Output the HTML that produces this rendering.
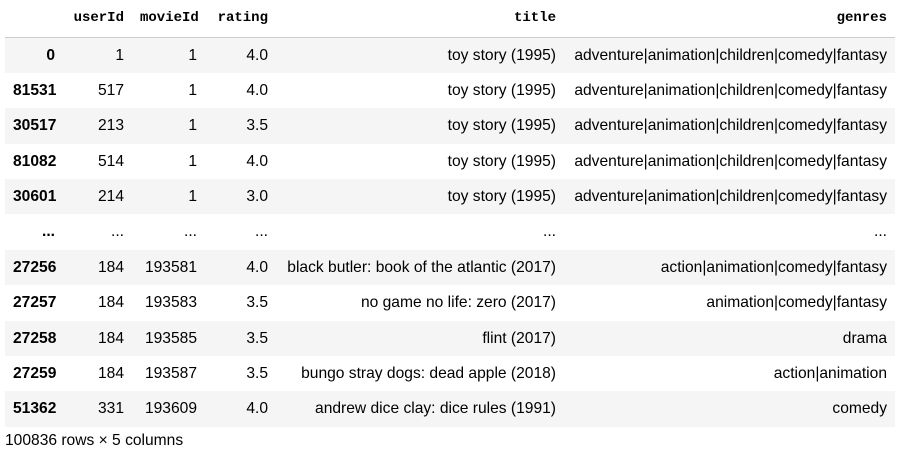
<!DOCTYPE html>
<html><head><style>
body{margin:0;background:#fff;width:899px;height:457px;overflow:hidden;font-family:"Liberation Sans",Arial,sans-serif;font-size:15.6px;color:#000}
table{position:absolute;left:5px;top:0;border-collapse:collapse;table-layout:fixed;width:890px}
td,th{padding:1px 8px 0 8px;text-align:right;white-space:nowrap;height:34.4px;line-height:34px;vertical-align:top}
thead th{padding:0 8px;height:37px;line-height:35px;font-family:"Liberation Mono",monospace;font-size:14px;font-weight:bold;border-bottom:1px solid #ccc;box-sizing:border-box;vertical-align:middle}
tbody th{font-weight:bold}
tbody tr:nth-child(odd){background:#f5f5f5}
.f{position:absolute;left:5px;top:432px;font-size:15.6px;color:#000}
</style></head><body>
<table>
<colgroup><col style="width:58px"><col style="width:69px"><col style="width:73px"><col style="width:71px"><col style="width:288px"><col style="width:331px"></colgroup>
<thead><tr><th></th><th>userId</th><th>movieId</th><th>rating</th><th>title</th><th>genres</th></tr></thead>
<tbody>
<tr><th>0</th><td>1</td><td>1</td><td>4.0</td><td>toy story (1995)</td><td>adventure|animation|children|comedy|fantasy</td></tr>
<tr><th>81531</th><td>517</td><td>1</td><td>4.0</td><td>toy story (1995)</td><td>adventure|animation|children|comedy|fantasy</td></tr>
<tr><th>30517</th><td>213</td><td>1</td><td>3.5</td><td>toy story (1995)</td><td>adventure|animation|children|comedy|fantasy</td></tr>
<tr><th>81082</th><td>514</td><td>1</td><td>4.0</td><td>toy story (1995)</td><td>adventure|animation|children|comedy|fantasy</td></tr>
<tr><th>30601</th><td>214</td><td>1</td><td>3.0</td><td>toy story (1995)</td><td>adventure|animation|children|comedy|fantasy</td></tr>
<tr style="background:#fff"><th>...</th><td>...</td><td>...</td><td>...</td><td>...</td><td>...</td></tr>
<tr style="background:#f5f5f5"><th>27256</th><td>184</td><td>193581</td><td>4.0</td><td>black butler: book of the atlantic (2017)</td><td>action|animation|comedy|fantasy</td></tr>
<tr style="background:#fff"><th>27257</th><td>184</td><td>193583</td><td>3.5</td><td>no game no life: zero (2017)</td><td>animation|comedy|fantasy</td></tr>
<tr style="background:#f5f5f5"><th>27258</th><td>184</td><td>193585</td><td>3.5</td><td>flint (2017)</td><td>drama</td></tr>
<tr style="background:#fff"><th>27259</th><td>184</td><td>193587</td><td>3.5</td><td>bungo stray dogs: dead apple (2018)</td><td>action|animation</td></tr>
<tr style="background:#f5f5f5"><th>51362</th><td>331</td><td>193609</td><td>4.0</td><td>andrew dice clay: dice rules (1991)</td><td>comedy</td></tr>
</tbody></table>
<div class="f">100836 rows × 5 columns</div>
</body></html>
